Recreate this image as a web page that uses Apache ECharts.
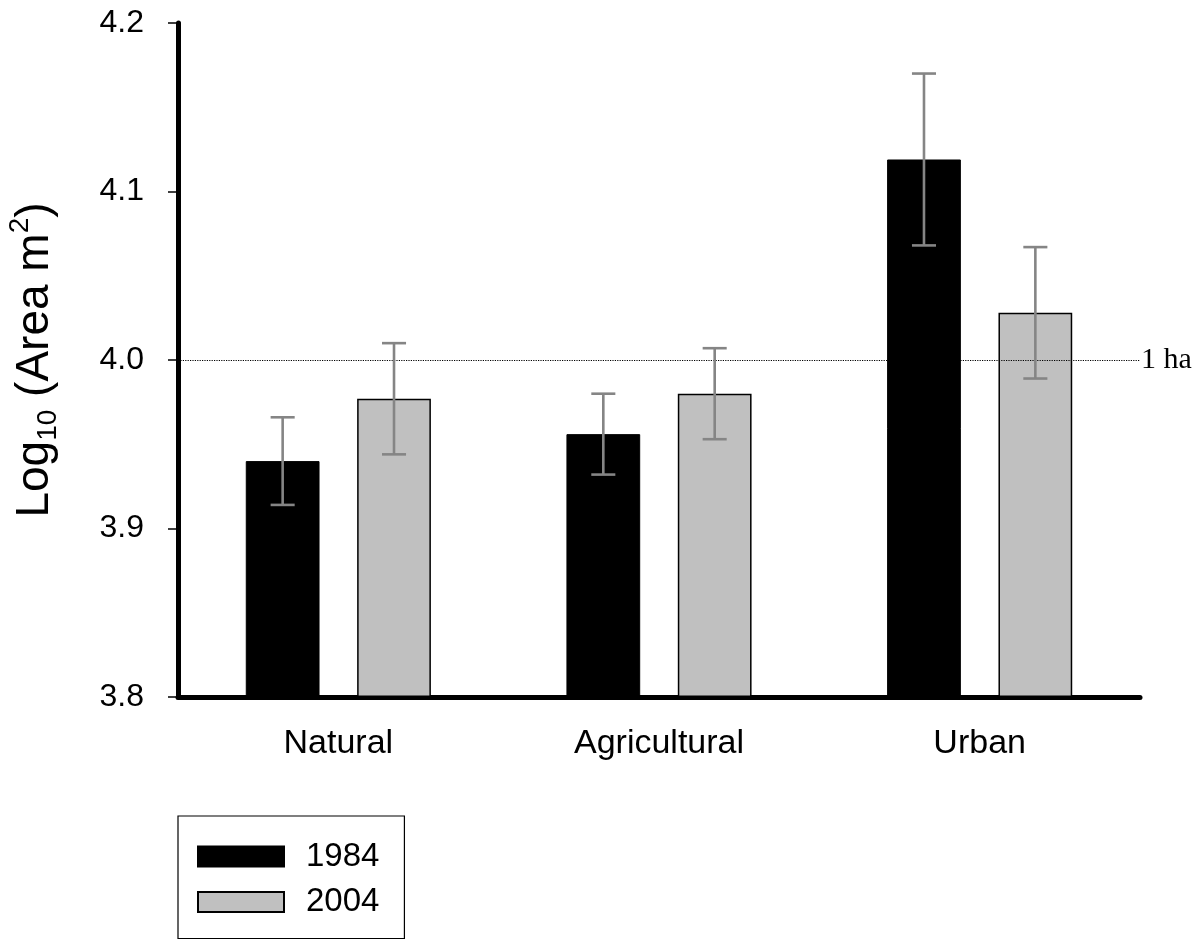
<!DOCTYPE html>
<html>
<head>
<meta charset="utf-8">
<script src="https://cdn.jsdelivr.net/npm/echarts@6/dist/echarts.min.js"></script>
<style>
html,body{margin:0;padding:0;background:#fff;}
#chart{width:1200px;height:942px;}
</style>
</head>
<body>
<div id="chart"></div>
<script>
// ---- data ----
const categories = ['Natural', 'Agricultural', 'Urban'];
const years = ['1984', '2004'];
const mean1984 = [3.940, 3.956, 4.119];
const err1984  = [0.026, 0.024, 0.051];
const mean2004 = [3.977, 3.980, 4.028];
const err2004  = [0.033, 0.027, 0.039];
const yTicks = [3.8, 3.9, 4.0, 4.1, 4.2];
const refValue = 4.0;
const refLabel = '1 ha';

const BAR_W = 0.23;   // fraction of band
const BAR_GAP = 0.51; // fraction of bar width

function errData(means, errs) {
  return means.map((m, i) => [i, m - errs[i], m + errs[i]]);
}

function errRenderer(sign) {
  return function (params, api) {
    const i = api.value(0);
    const lo = api.coord([i, api.value(1)]);
    const hi = api.coord([i, api.value(2)]);
    const band = api.size([1, 0])[0];
    const x = lo[0] + sign * band * BAR_W * (1 + BAR_GAP) / 2;
    const half = band * 0.0375;
    const st = { stroke: '#858585', lineWidth: 2.6 };
    return {
      type: 'group',
      children: [
        { type: 'line', shape: { x1: x, y1: lo[1], x2: x, y2: hi[1] }, style: st },
        { type: 'line', shape: { x1: x - half, y1: lo[1], x2: x + half, y2: lo[1] }, style: st },
        { type: 'line', shape: { x1: x - half, y1: hi[1], x2: x + half, y2: hi[1] }, style: st }
      ]
    };
  };
}

const chart = echarts.init(document.getElementById('chart'), null, { renderer: 'canvas' });
const SANS = 'Arial, "Liberation Sans", sans-serif';

chart.setOption({
  animation: false,
  backgroundColor: '#fff',
  grid: { left: 178, right: 60, top: 23, bottom: 245, containLabel: false, outerBoundsMode: 'none' },
  legend: {
    data: years,
    orient: 'vertical',
    left: 178, top: 816,
    height: 300,
    padding: [24, 25, 20, 19],
    itemGap: 12.5,
    itemWidth: 86, itemHeight: 20,
    icon: 'rect',
    borderColor: '#000', borderWidth: 1.2,
    textStyle: { fontFamily: SANS, fontSize: 33, color: '#000', padding: [0, 0, 0, 17] }
  },
  xAxis: {
    type: 'category',
    data: categories,
    axisLine: { lineStyle: { color: '#000', width: 5 } },
    axisTick: { alignWithLabel: true, length: 9, lineStyle: { color: '#000', width: 1.2 } },
    axisLabel: { margin: 30, fontFamily: SANS, fontSize: 34, color: '#000' },
    splitLine: { show: false }
  },
  yAxis: {
    type: 'value',
    min: yTicks[0], max: yTicks[yTicks.length - 1], interval: 0.1,
    startValue: yTicks[0],
    name: '{m|Log}{s|10}{m| (Area m}{p|2}{m|)}',
    nameLocation: 'middle',
    nameGap: 114,
    nameRotate: 90,
    nameTextStyle: {
      rich: {
        m: { fontFamily: SANS, fontSize: 46, color: '#000', lineHeight: 58, verticalAlign: 'middle' },
        s: { fontFamily: SANS, fontSize: 28, color: '#000', lineHeight: 58, verticalAlign: 'bottom', padding: [0, 0, 2, 0] },
        p: { fontFamily: SANS, fontSize: 28, color: '#000', lineHeight: 58, verticalAlign: 'top', padding: [0, 0, 0, 0] }
      }
    },
    axisLine: { show: true, lineStyle: { color: '#000', width: 5 } },
    axisTick: { show: true, length: 10, lineStyle: { color: '#000', width: 1.5 } },
    axisLabel: { margin: 34, fontFamily: SANS, fontSize: 32, color: '#000', formatter: v => v.toFixed(1) },
    splitLine: { show: false }
  },
  series: [
    {
      name: years[0], type: 'bar', data: mean1984,
      barWidth: (BAR_W * 100) + '%', barGap: (BAR_GAP * 100) + '%',
      itemStyle: { color: '#000', borderColor: '#000', borderWidth: 1 },
      clip: true,
      markLine: {
        silent: true, symbol: 'none',
        lineStyle: { color: '#000', type: [1.2, 1.2], width: 1.2 },
        label: { show: true, position: 'end', distance: 1, formatter: refLabel,
                 fontFamily: '"Times New Roman", "Liberation Serif", serif', fontSize: 30, color: '#000' },
        data: [{ yAxis: refValue }]
      },
      z: 2
    },
    {
      name: years[1], type: 'bar', data: mean2004,
      barWidth: (BAR_W * 100) + '%', barGap: (BAR_GAP * 100) + '%',
      itemStyle: { color: '#c0c0c0', borderColor: '#000', borderWidth: 1.5 },
      clip: true, z: 2
    },
    {
      name: 'err1984', type: 'custom', data: errData(mean1984, err1984),
      renderItem: errRenderer(-1), encode: { x: 0, y: [1, 2] }, z: 5, silent: true
    },
    {
      name: 'err2004', type: 'custom', data: errData(mean2004, err2004),
      renderItem: errRenderer(1), encode: { x: 0, y: [1, 2] }, z: 5, silent: true
    }
  ]
});
</script>
</body>
</html>
